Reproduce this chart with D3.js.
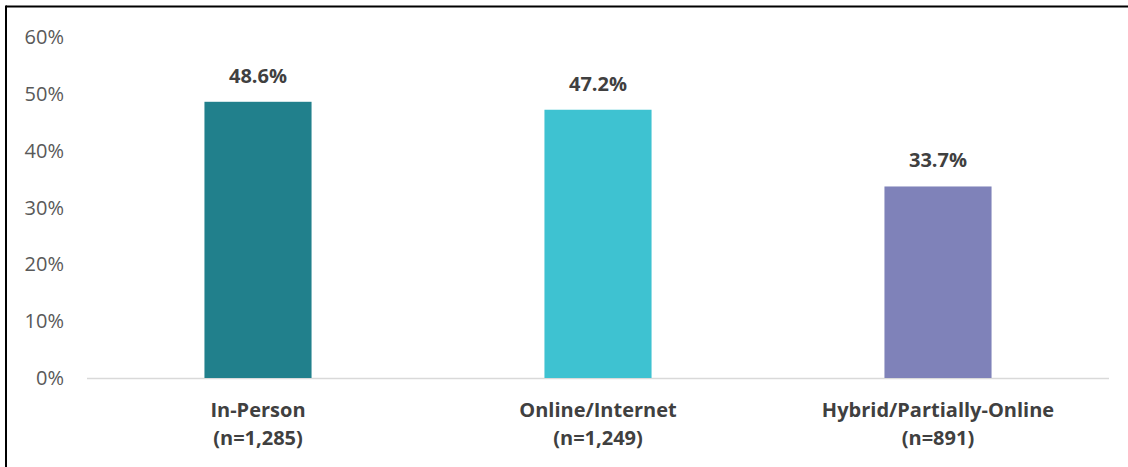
<!DOCTYPE html>
<html>
<head>
<meta charset="utf-8">
<script src="https://cdn.jsdelivr.net/npm/d3@7/dist/d3.min.js"></script>
<style>
  html, body { margin: 0; padding: 0; background: #fff; }
  svg { display: block; font-family: "Open Sans", "DejaVu Sans", sans-serif; }
  .tick-label { fill: #595959; font-size: 20px; }
  .value-label { fill: #404040; font-size: 20px; font-weight: bold; }
  .cat-label { fill: #404040; font-size: 20px; font-weight: bold; }
</style>
</head>
<body>
<svg id="chart"></svg>
<script>
const categories = ["In-Person", "Online/Internet", "Hybrid/Partially-Online"];
const sampleSizes = ["(n=1,285)", "(n=1,249)", "(n=891)"];
const values = [48.6, 47.2, 33.7];
const barColors = ["#21808C", "#3EC2D1", "#7F82B9"];
const yTicks = [0, 10, 20, 30, 40, 50, 60];

const width = 1128, height = 467;

const svg = d3.select("#chart").attr("width", width).attr("height", height);

// outer frame: only the top and left edges show in the reference
svg.append("line")
  .attr("x1", 6).attr("x2", width).attr("y1", 6.5).attr("y2", 6.5)
  .attr("stroke", "#000").attr("stroke-width", 2);
svg.append("line")
  .attr("x1", 6).attr("x2", 6).attr("y1", 5.5).attr("y2", height)
  .attr("stroke", "#000").attr("stroke-width", 2);

const x = d3.scaleBand()
  .domain(categories)
  .range([88, 1108])
  .paddingInner(0.685)
  .paddingOuter(0.3425);

const y = d3.scaleLinear()
  .domain([0, 60])
  .range([378, 37]);

// y tick labels (no axis line, no gridlines)
svg.append("g")
  .selectAll("text")
  .data(yTicks)
  .join("text")
  .attr("class", "tick-label")
  .attr("x", 64)
  .attr("y", d => y(d))
  .attr("dy", "0.35em")
  .attr("text-anchor", "end")
  .text(d => d + "%");

// baseline
svg.append("line")
  .attr("x1", 87).attr("x2", 1109)
  .attr("y1", y(0) + 0.5).attr("y2", y(0) + 0.5)
  .attr("stroke", "#d9d9d9").attr("stroke-width", 1.5);

const data = categories.map((c, i) => ({ cat: c, n: sampleSizes[i], v: values[i], color: barColors[i] }));

svg.append("g")
  .selectAll("rect")
  .data(data)
  .join("rect")
  .attr("x", d => x(d.cat))
  .attr("y", d => y(d.v))
  .attr("width", x.bandwidth())
  .attr("height", d => y(0) - y(d.v))
  .attr("fill", d => d.color);

svg.append("g")
  .selectAll("text")
  .data(data)
  .join("text")
  .attr("class", "value-label")
  .attr("x", d => x(d.cat) + x.bandwidth() / 2)
  .attr("y", d => y(d.v) - 19)
  .attr("text-anchor", "middle")
  .text(d => d.v.toFixed(1) + "%");

const cat = svg.append("g")
  .selectAll("text")
  .data(data)
  .join("text")
  .attr("class", "cat-label")
  .attr("text-anchor", "middle");
cat.append("tspan")
  .attr("x", d => x(d.cat) + x.bandwidth() / 2)
  .attr("y", 417)
  .text(d => d.cat);
cat.append("tspan")
  .attr("x", d => x(d.cat) + x.bandwidth() / 2)
  .attr("y", 445)
  .text(d => d.n);
</script>
</body>
</html>
